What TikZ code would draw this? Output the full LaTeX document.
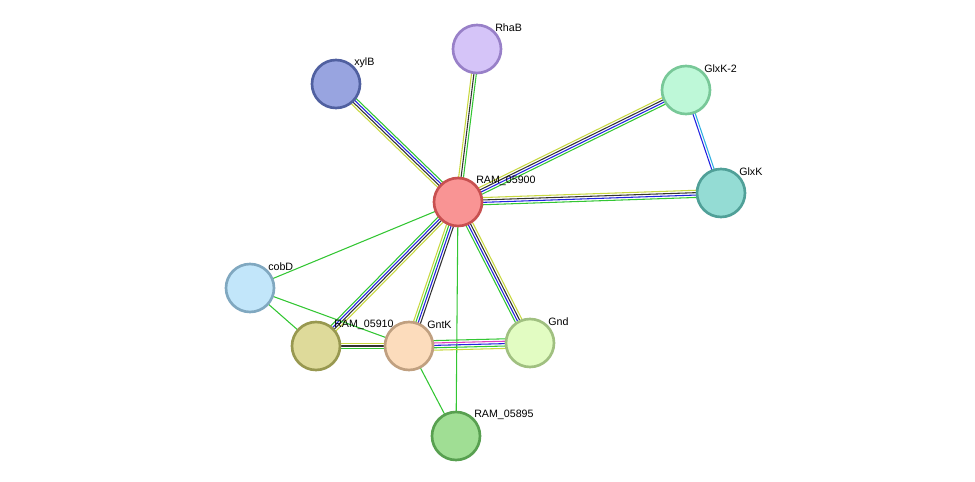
\documentclass[tikz,border=0pt]{standalone}
\usepackage{fontspec}
\setmainfont{Liberation Sans}
\usetikzlibrary{calc}
\definecolor{egreen}{HTML}{33C633}
\definecolor{eblue}{HTML}{2222E0}
\definecolor{edark}{HTML}{333333}
\definecolor{eyellow}{HTML}{C8D840}
\definecolor{emag}{HTML}{E040C0}
\definecolor{ecyan}{HTML}{30B0E0}
\definecolor{f0}{HTML}{F99494}\definecolor{d0}{HTML}{C85050}
\definecolor{f1}{HTML}{D5C4F8}\definecolor{d1}{HTML}{9880C8}
\definecolor{f2}{HTML}{98A4E0}\definecolor{d2}{HTML}{5060A0}
\definecolor{f3}{HTML}{BEF8D8}\definecolor{d3}{HTML}{78C898}
\definecolor{f4}{HTML}{94DCD4}\definecolor{d4}{HTML}{50A098}
\definecolor{f5}{HTML}{C2E6FA}\definecolor{d5}{HTML}{80A8C0}
\definecolor{f6}{HTML}{DEDA9A}\definecolor{d6}{HTML}{989850}
\definecolor{f7}{HTML}{FCDCBC}\definecolor{d7}{HTML}{C0A080}
\definecolor{f8}{HTML}{E2FCC2}\definecolor{d8}{HTML}{A0C080}
\definecolor{f9}{HTML}{A0DE94}\definecolor{d9}{HTML}{58A050}
\tikzset{
  prot/.style 2 args={circle, minimum size=36, inner sep=0pt, line width=2pt, fill=#1, draw=#2},
  plabel/.style={anchor=west, font=\fontsize{8}{9}\selectfont, inner sep=0pt},
}
% edge made of parallel coloured lines
\newcommand{\pedge}[4]{% from, to, number, colour list
  \foreach \c [count=\i] in {#4} {
    \pgfmathsetmacro{\off}{(\i-(#3+1)/2)*1.8}
    \draw[\c, line width=0.8pt]
      ($(#1)!\off pt!90:(#2)$) -- ($(#2)!\off pt!-90:(#1)$);
  }%
}
\begin{document}
\begin{tikzpicture}[x=0.75pt, y=-0.75pt]
  \useasboundingbox (0,0) rectangle (975,482);
  % positions
  \coordinate (c) at (458,202);
  \coordinate (rhab) at (477,49);
  \coordinate (xylb) at (336,84);
  \coordinate (glxk2) at (686,90);
  \coordinate (glxk) at (721,193);
  \coordinate (cobd) at (250,288);
  \coordinate (r10) at (316,346);
  \coordinate (gntk) at (409,346);
  \coordinate (gnd) at (530,343);
  \coordinate (r95) at (456,436);
  % edges
  \pedge{c}{xylb}{4}{egreen,eblue,edark,eyellow}
  \pedge{c}{rhab}{3}{egreen,edark,eyellow}
  \pedge{c}{glxk2}{4}{egreen,eblue,edark,eyellow}
  \pedge{c}{glxk}{4}{egreen,eblue,edark,eyellow}
  \pedge{glxk2}{glxk}{2}{eblue,ecyan}
  \pedge{c}{cobd}{1}{egreen}
  \pedge{c}{r10}{4}{egreen,eblue,edark,eyellow}
  \pedge{c}{gntk}{4}{eyellow,egreen,eblue,edark}
  \pedge{c}{gnd}{4}{egreen,eblue,edark,eyellow}
  \pedge{c}{r95}{1}{egreen}
  \pedge{cobd}{r10}{1}{egreen}
  \pedge{cobd}{gntk}{1}{egreen}
  \pedge{r10}{gntk}{3}{egreen,edark,eyellow}
  \pedge{gntk}{gnd}{5}{eyellow,egreen,eblue,emag,egreen}
  \pedge{gntk}{r95}{1}{egreen}
  % proteins
  \node[prot={f0}{d0}] (n0) at (c) {};
  \node[prot={f1}{d1}] (n1) at (rhab) {};
  \node[prot={f2}{d2}] (n2) at (xylb) {};
  \node[prot={f3}{d3}] (n3) at (glxk2) {};
  \node[prot={f4}{d4}] (n4) at (glxk) {};
  \node[prot={f5}{d5}] (n5) at (cobd) {};
  \node[prot={f6}{d6}] (n6) at (r10) {};
  \node[prot={f7}{d7}] (n7) at (gntk) {};
  \node[prot={f8}{d8}] (n8) at (gnd) {};
  \node[prot={f9}{d9}] (n9) at (r95) {};
  % labels
  \node[plabel] at ([shift={(18,-21)}]c) {RAM\_05900};
  \node[plabel] at ([shift={(18,-21)}]rhab) {RhaB};
  \node[plabel] at ([shift={(18,-21)}]xylb) {xylB};
  \node[plabel] at ([shift={(18,-21)}]glxk2) {GlxK-2};
  \node[plabel] at ([shift={(18,-21)}]glxk) {GlxK};
  \node[plabel] at ([shift={(18,-21)}]cobd) {cobD};
  \node[plabel] at ([shift={(18,-21)}]r10) {RAM\_05910};
  \node[plabel] at ([shift={(18,-21)}]gntk) {GntK};
  \node[plabel] at ([shift={(18,-21)}]gnd) {Gnd};
  \node[plabel] at ([shift={(18,-21)}]r95) {RAM\_05895};
\end{tikzpicture}
\end{document}
